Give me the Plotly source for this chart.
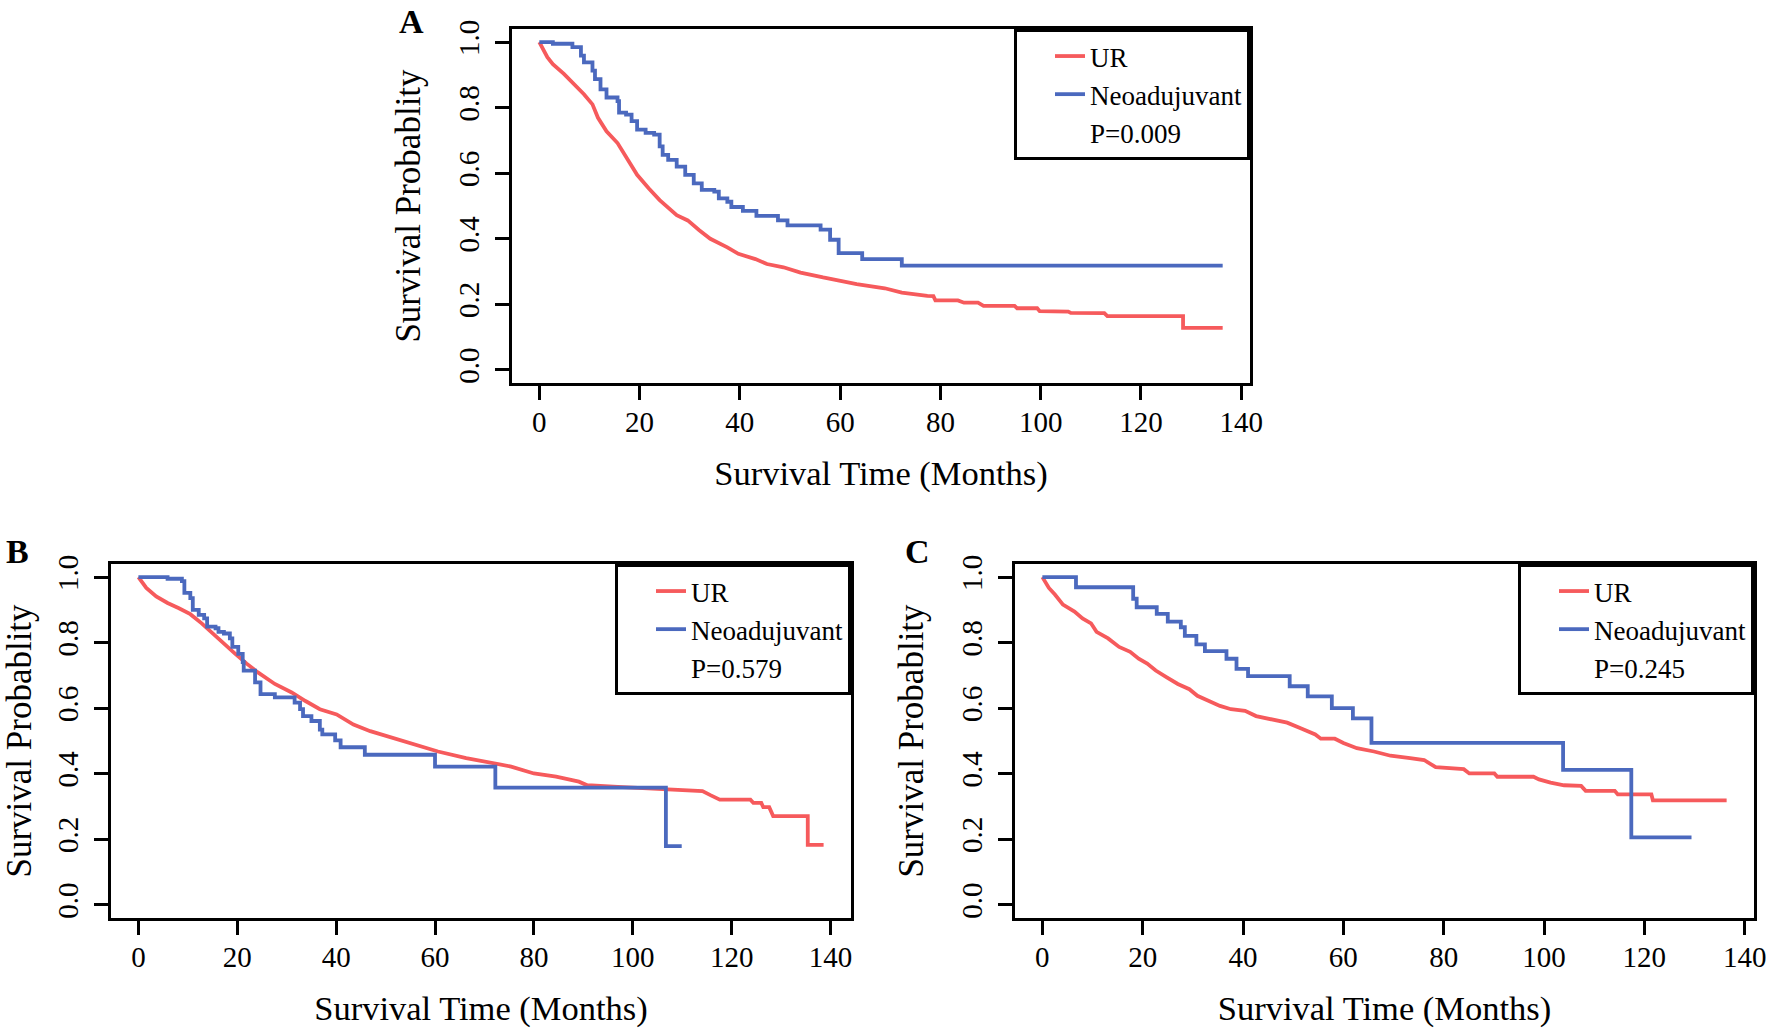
import plotly.graph_objects as go

# ---------------- data ----------------
x_ticks = [0, 20, 40, 60, 80, 100, 120, 140]
y_ticks = [0.0, 0.2, 0.4, 0.6, 0.8, 1.0]
group_names = ["UR", "Neoadujuvant"]
p_values = ["P=0.009", "P=0.579", "P=0.245"]
panel_letters = ["A", "B", "C"]

# Panel A
a_ur_t = [0, 1.6, 2.7, 4.9, 8.9, 10.6, 11.7, 13.4, 15.6, 17.3, 19.5, 21.8, 24, 27.4, 29.6,
          31.9, 34.1, 37.5, 39.7, 43.1, 45.4, 48.7, 52.1, 56.6, 60, 63.3, 68.9, 72.3, 77.4,
          78.6, 79, 83.5, 84.7, 87.5, 88.6, 94.8, 95.3, 99.3, 99.8, 105.5, 106, 112.7, 113.3,
          128.4, 128.4, 136.3]
a_ur_s = [1, 0.954, 0.933, 0.903, 0.841, 0.81, 0.769, 0.728, 0.692, 0.651, 0.595, 0.554, 0.518,
          0.472, 0.456, 0.426, 0.4, 0.374, 0.354, 0.338, 0.323, 0.313, 0.297, 0.282, 0.272, 0.262,
          0.249, 0.236, 0.226, 0.225, 0.212, 0.212, 0.205, 0.205, 0.195, 0.195, 0.188, 0.188,
          0.179, 0.178, 0.174, 0.173, 0.164, 0.164, 0.128, 0.128]
a_neo_t = [0, 2.7, 6.6, 8.3, 8.9, 10.6, 11.1, 12.2, 13.4, 15.6, 15.9, 17.3, 18.4, 19.5, 21.2,
           22.9, 24, 24.6, 25.7, 27.4, 29.1, 30.8, 32.4, 34.9, 35.8, 37.5, 38.3, 40.6, 43.3,
           47.6, 49.5, 56.1, 58, 59.7, 64.4, 72.3, 136.3]
a_neo_s = [1, 0.995, 0.985, 0.959, 0.938, 0.913, 0.887, 0.856, 0.831, 0.82, 0.785, 0.779, 0.759,
           0.733, 0.723, 0.718, 0.682, 0.656, 0.641, 0.62, 0.595, 0.569, 0.549, 0.544, 0.523,
           0.513, 0.497, 0.485, 0.470, 0.456, 0.441, 0.428, 0.397, 0.356, 0.338, 0.318, 0.318]

# Panel B
b_ur_t = [0, 1.6, 3.6, 5.9, 8.2, 10.5, 12.8, 15, 17.3, 19.6, 21.9, 24.1, 27.6, 31, 33.8, 36.7,
          40.1, 43.5, 46.9, 51.5, 56, 60.6, 66.3, 72, 75.4, 80, 84.5, 89.1, 90.8, 97, 102.7,
          108.4, 114.1, 115.8, 117.6, 123.8, 124.4, 126, 126.4, 127.6, 128.4, 135.4, 135.4, 138.6]
b_ur_s = [1, 0.967, 0.941, 0.921, 0.905, 0.887, 0.859, 0.828, 0.797, 0.766, 0.736, 0.71, 0.674,
          0.648, 0.622, 0.597, 0.581, 0.55, 0.53, 0.509, 0.489, 0.468, 0.448, 0.432, 0.422, 0.401,
          0.391, 0.376, 0.365, 0.36, 0.355, 0.352, 0.347, 0.334, 0.321, 0.321, 0.311, 0.311,
          0.298, 0.298, 0.271, 0.271, 0.183, 0.183]
b_neo_t = [0, 5.9, 8.8, 9.3, 10.5, 11, 12.2, 13.3, 13.9, 15.6, 16.2, 17.3, 18.5, 19, 20.2, 21.1,
           21.3, 23.6, 24.7, 27.6, 31.6, 32.7, 33.3, 35, 36.7, 37.2, 39.8, 40.9, 45.8, 60, 72.2,
           106.7, 109.9]
b_neo_s = [1, 0.995, 0.988, 0.952, 0.936, 0.9, 0.885, 0.874, 0.849, 0.844, 0.833, 0.828, 0.813,
           0.787, 0.766, 0.741, 0.715, 0.679, 0.643, 0.633, 0.617, 0.597, 0.576, 0.561, 0.535,
           0.52, 0.502, 0.481, 0.458, 0.422, 0.358, 0.179, 0.179]

# Panel C
c_ur_t = [0, 1.3, 2.5, 4.1, 6.4, 8, 9.7, 10.8, 13.1, 15.3, 17.5, 19.2, 20.9, 22.6, 24.8, 27,
          29.3, 30.9, 33.2, 35.4, 37.6, 40.4, 42.6, 46, 48.8, 51.6, 54.4, 55.5, 58.3, 60, 62.7,
          66.1, 69.4, 73.3, 76.1, 78.4, 84, 85.1, 90.1, 90.7, 97.9, 99, 101.3, 104, 107.4, 108.3,
          114.1, 114.7, 121.4, 121.7, 136.4]
c_ur_s = [1, 0.967, 0.947, 0.916, 0.895, 0.874, 0.859, 0.833, 0.813, 0.787, 0.772, 0.751, 0.736,
          0.715, 0.694, 0.674, 0.658, 0.638, 0.622, 0.607, 0.597, 0.592, 0.576, 0.566, 0.556,
          0.538, 0.52, 0.507, 0.507, 0.494, 0.478, 0.468, 0.455, 0.448, 0.442, 0.42, 0.414, 0.401,
          0.401, 0.391, 0.391, 0.383, 0.373, 0.365, 0.363, 0.348, 0.348, 0.337, 0.337, 0.319, 0.319]
c_neo_t = [0, 6.7, 18.1, 18.8, 22.8, 25, 27.6, 28.4, 30.7, 32.4, 36.7, 38.7, 41, 49.3, 52.9,
           57.7, 61.9, 65.6, 103.8, 117.4, 129.4]
c_neo_s = [1, 0.969, 0.934, 0.908, 0.888, 0.864, 0.847, 0.821, 0.795, 0.774, 0.751, 0.72, 0.698,
           0.667, 0.636, 0.6, 0.569, 0.494, 0.412, 0.206, 0.206]

# ---------------- styling ----------------
W, H = 1766, 1028
RED = "#F65A5C"
BLUE = "#4B69BE"
FONT = "Liberation Serif"

# plot boxes in pixels: (left, right, top, bottom)
boxes = [(512, 1250, 29, 383), (111, 851, 564, 918), (1015, 1754, 564, 918)]
letter_pos = [(411, 21), (17, 551), (918, 551)]

panels = [
    (a_ur_t, a_ur_s, a_neo_t, a_neo_s),
    (b_ur_t, b_ur_s, b_neo_t, b_neo_s),
    (c_ur_t, c_ur_s, c_neo_t, c_neo_s),
]

fig = go.Figure()
layout = dict(
    template="none",
    width=W, height=H, margin=dict(l=0, r=0, t=0, b=0, pad=0), autosize=False,
    paper_bgcolor="white", plot_bgcolor="white",
    font=dict(family=FONT, color="black"),
    showlegend=True,
    annotations=[],
)

for i, (urt, urs, nt, ns) in enumerate(panels):
    sfx = "" if i == 0 else str(i + 1)
    xa, ya = "x" + sfx, "y" + sfx
    leg = "legend" + sfx
    fig.add_trace(go.Scatter(x=urt, y=urs, mode="lines", name=group_names[0],
                             line=dict(color=RED, width=3.8, shape="linear"),
                             xaxis=xa, yaxis=ya, legend=leg))
    fig.add_trace(go.Scatter(x=nt, y=ns, mode="lines", name=group_names[1],
                             line=dict(color=BLUE, width=3.8, shape="hv"),
                             xaxis=xa, yaxis=ya, legend=leg))
    fig.add_trace(go.Scatter(x=[None], y=[None], mode="lines", name=p_values[i],
                             line=dict(color="rgba(0,0,0,0)", width=0),
                             xaxis=xa, yaxis=ya, legend=leg))

    l, r, t, b = boxes[i]
    xmax = max(max(urt), max(nt))
    axis_common = dict(
        showline=True, mirror=True, linecolor="black", linewidth=3,
        ticks="outside", ticklen=14, tickwidth=3, tickcolor="black",
        showgrid=False, zeroline=False, automargin=False,
        ticklabeloverflow="allow",
        tickfont=dict(family=FONT, size=29, color="black"),
    )
    layout["xaxis" + sfx] = dict(
        axis_common, domain=[l / W, r / W], anchor=ya,
        range=[-0.04 * xmax, 1.04 * xmax], tickvals=x_ticks,
        ticklabelstandoff=-3,
        title=dict(text="Survival Time (Months)", font=dict(family=FONT, size=34.5), standoff=25),
    )
    layout["yaxis" + sfx] = dict(
        axis_common, domain=[1 - b / H, 1 - t / H], anchor=xa,
        range=[-0.04, 1.04], tickvals=y_ticks, tickformat=".1f", tickangle=-90,
        ticklabelstandoff=4,
        title=dict(text="Survival Probablity", font=dict(family=FONT, size=35), standoff=23),
    )
    layout[leg] = dict(
        x=r / W, y=1 - t / H, xanchor="right", yanchor="top",
        bgcolor="white", bordercolor="black", borderwidth=3,
        font=dict(family=FONT, size=27, color="black"), tracegroupgap=0,
        indentation=33,
    )
    lx, ly = letter_pos[i]
    layout["annotations"].append(dict(
        text="<b>%s</b>" % panel_letters[i], x=lx / W, y=1 - ly / H, xref="paper", yref="paper",
        showarrow=False, font=dict(family=FONT, size=34, color="black"),
        xanchor="center", yanchor="middle",
    ))

fig.update_layout(**layout)
fig.write_html(
    "out.html",
    config={"displayModeBar": False},
    post_script="document.body.style.margin='0px';document.body.style.overflow='hidden';",
)
